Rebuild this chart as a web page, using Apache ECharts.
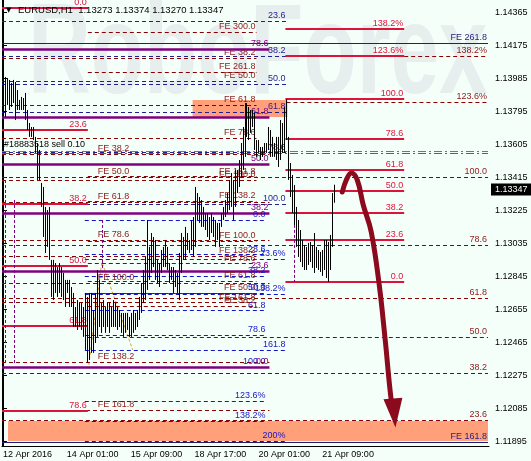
<!DOCTYPE html>
<html><head><meta charset="utf-8">
<script src="https://cdn.jsdelivr.net/npm/echarts@6/dist/echarts.min.js"></script>
<style>html,body{margin:0;padding:0;background:#F5FFFA}#c{width:531px;height:461px}</style>
</head><body><div id="c"></div>
<script>
// ---------------- data ----------------
const symbolName = 'EURUSD,H1';
const tickLabels = ['12 Apr 2016','14 Apr 01:00','15 Apr 09:00','18 Apr 17:00','20 Apr 01:00','21 Apr 09:00'];
const tickBars = [0, 32, 64, 96, 128, 160];
const slotCount = 244;
const priceTicks = [1.11895,1.12085,1.12275,1.12465,1.12655,1.12845,1.13035,1.13225,1.13415,1.13605,1.13795,1.13985,1.14175,1.14365];
const priceMin = 1.1187, priceMax = 1.14437;
const lastQuote = [1.13273, 1.13374, 1.13270, 1.13347];
// [open, high, low, close]
const bars = [
[1.1385,1.13977,1.13775,1.1395],[1.1395,1.13994,1.13764,1.1382],[1.1384,1.13988,1.13833,1.1396],[1.1396,1.13977,1.13804,1.1385],
[1.1385,1.13959,1.13821,1.1393],[1.1393,1.13977,1.13844,1.1388],[1.1388,1.13965,1.13746,1.1378],[1.1381,1.13919,1.13804,1.1388],
[1.1386,1.13862,1.13804,1.1381],[1.1381,1.13879,1.13804,1.1386],[1.1386,1.13873,1.13804,1.1382],[1.1382,1.13902,1.13746,1.1376],
[1.1376,1.13804,1.13689,1.1370],[1.1370,1.13729,1.13649,1.1366],[1.1366,1.13706,1.13649,1.1369],[1.1369,1.13706,1.13631,1.1364],
[1.1364,1.13649,1.13557,1.1357],[1.1357,1.13614,1.13401,1.1342],[1.1342,1.13574,1.13401,1.1350],[1.1337,1.13384,1.13246,1.1326],
[1.1326,1.13361,1.13073,1.1310],[1.1310,1.13246,1.12981,1.1300],[1.1302,1.13228,1.13016,1.1318],[1.1318,1.13246,1.12941,1.1295],
[1.1294,1.12941,1.12728,1.1275],[1.1275,1.12941,1.1271,1.1290],[1.1290,1.12923,1.12751,1.1278],[1.1278,1.129,1.12728,1.1288],
[1.1288,1.12923,1.12751,1.1277],[1.1277,1.129,1.12728,1.1287],[1.1286,1.12866,1.1271,1.1273],[1.1273,1.12826,1.1267,1.1279],
[1.1279,1.12826,1.12751,1.1276],[1.1276,1.12826,1.1267,1.1268],[1.1268,1.12785,1.1267,1.1276],[1.1275,1.12751,1.12555,1.1258],
[1.1258,1.1267,1.12555,1.1265],[1.1265,1.1271,1.12538,1.1256],[1.1256,1.12693,1.12555,1.1266],[1.1266,1.12693,1.12538,1.1255],
[1.1255,1.1267,1.12498,1.1262],[1.1262,1.12751,1.12423,1.1246],[1.1246,1.12728,1.12348,1.1266],[1.1266,1.12751,1.12365,1.1245],
[1.1245,1.12751,1.12406,1.1270],[1.1265,1.12653,1.12406,1.1245],[1.1247,1.12751,1.12463,1.1272],[1.1272,1.12883,1.12498,1.1255],
[1.1256,1.12826,1.12555,1.1278],[1.1267,1.12693,1.12521,1.1254],[1.1256,1.1271,1.12555,1.1269],[1.1267,1.1267,1.12521,1.1253],
[1.1256,1.12693,1.12555,1.1268],[1.1268,1.12693,1.12521,1.1254],[1.1256,1.1267,1.12555,1.1265],[1.1265,1.1271,1.12555,1.1257],
[1.1257,1.12693,1.12555,1.1267],[1.1267,1.1267,1.12538,1.1255],[1.1256,1.12653,1.12555,1.1264],[1.1263,1.12636,1.12521,1.1253],
[1.1253,1.12636,1.12498,1.1262],[1.1262,1.12636,1.12521,1.1254],[1.1254,1.12636,1.12538,1.1262],[1.1261,1.12613,1.12498,1.1251],
[1.1251,1.12636,1.12498,1.1262],[1.1262,1.12653,1.12521,1.1254],[1.1254,1.12636,1.12538,1.1263],[1.1263,1.12653,1.12555,1.1258],
[1.1260,1.12728,1.12595,1.1271],[1.1271,1.12808,1.12636,1.1279],[1.1279,1.12883,1.12693,1.1287],[1.1287,1.12958,1.1271,1.1294],
[1.1294,1.13171,1.12768,1.1302],[1.1301,1.13016,1.12826,1.1285],[1.1287,1.13096,1.12866,1.1305],[1.1305,1.13073,1.129,1.1292],
[1.1292,1.13056,1.12826,1.1286],[1.1286,1.12941,1.12808,1.1292],[1.1292,1.12923,1.12785,1.1281],[1.1287,1.12998,1.12866,1.1297],
[1.1297,1.13016,1.129,1.1291],[1.1291,1.13056,1.129,1.1303],[1.1301,1.13016,1.12883,1.1290],[1.1290,1.12923,1.12808,1.1282],
[1.1283,1.129,1.12826,1.1288],[1.1288,1.129,1.12751,1.1277],[1.1279,1.12883,1.12785,1.1286],[1.1286,1.12866,1.12751,1.1278],
[1.1278,1.12981,1.1271,1.1296],[1.1296,1.13096,1.12866,1.1306],[1.1306,1.13073,1.12941,1.1297],[1.1297,1.13131,1.12941,1.1310],
[1.1309,1.13096,1.12998,1.1302],[1.1302,1.13056,1.12981,1.1299],[1.1300,1.13171,1.12998,1.1314],[1.1314,1.13188,1.12958,1.1300],
[1.1302,1.13361,1.13016,1.1329],[1.1329,1.13326,1.13171,1.1319],[1.1319,1.13303,1.13154,1.1328],[1.1328,1.13286,1.13131,1.1316],
[1.1316,1.13246,1.13131,1.1322],[1.1320,1.13211,1.13113,1.1313],[1.1313,1.13211,1.13073,1.1318],[1.1318,1.13188,1.13056,1.1308],
[1.1310,1.13211,1.13096,1.1319],[1.1318,1.13188,1.13073,1.1309],[1.1309,1.13171,1.13016,1.1303],[1.1306,1.13154,1.13056,1.1314],
[1.1314,1.13154,1.13016,1.1305],[1.1314,1.13211,1.13131,1.1320],[1.1318,1.13246,1.13171,1.1324],[1.1324,1.13286,1.13188,1.1327],
[1.1327,1.13326,1.13211,1.1322],[1.1323,1.13401,1.13228,1.1338],[1.1338,1.13441,1.13246,1.1327],[1.1327,1.13401,1.13171,1.1320],
[1.1325,1.13459,1.13246,1.1343],[1.1343,1.13459,1.13326,1.1336],[1.1336,1.13516,1.13361,1.1349],[1.1349,1.13614,1.13418,1.1359],
[1.1359,1.13706,1.13459,1.1368],[1.1368,1.13844,1.13534,1.1380],[1.1380,1.13844,1.13649,1.1368],[1.1368,1.13821,1.13631,1.1379],
[1.1379,1.13804,1.13672,1.1370],[1.1371,1.13804,1.13706,1.1378],[1.1378,1.13787,1.13574,1.1360],[1.1360,1.13631,1.13534,1.1356],
[1.1356,1.13631,1.13557,1.1362],[1.1359,1.13591,1.13516,1.1353],[1.1354,1.13591,1.13534,1.1358],[1.1358,1.13614,1.13557,1.1360],
[1.1360,1.13614,1.13557,1.1357],[1.1358,1.13706,1.13574,1.1368],[1.1368,1.13689,1.13534,1.1356],[1.1356,1.13649,1.13534,1.1362],
[1.1361,1.13614,1.13534,1.1355],[1.1355,1.13649,1.13516,1.1363],[1.1363,1.13649,1.13476,1.1350],[1.1352,1.13746,1.13516,1.1370],
[1.1370,1.13729,1.13557,1.1360],[1.1360,1.13821,1.13557,1.1378],[1.1378,1.13867,1.13631,1.1366],[1.1364,1.13649,1.13401,1.1342],
[1.1342,1.13499,1.13303,1.1332],[1.1332,1.1343,1.13211,1.1322],[1.1322,1.13372,1.13142,1.1316],[1.1316,1.13246,1.13016,1.1303],
[1.1303,1.13171,1.12958,1.1298],[1.1298,1.13113,1.12929,1.1295],[1.1295,1.13056,1.129,1.1302],[1.1302,1.13027,1.12883,1.1290],
[1.1290,1.13016,1.12883,1.1299],[1.1299,1.13039,1.12912,1.1293],[1.1293,1.13044,1.12929,1.1301],[1.1301,1.13027,1.12895,1.1291],
[1.1291,1.13096,1.12866,1.1304],[1.1301,1.13016,1.12895,1.1292],[1.1292,1.12998,1.12883,1.1296],[1.1296,1.12987,1.12872,1.1289],
[1.1289,1.12998,1.12849,1.1297],[1.1297,1.13056,1.12883,1.1303],[1.1303,1.13056,1.12837,1.1288],[1.1288,1.13044,1.12814,1.1300],
[1.1300,1.13085,1.12883,1.1306],[1.1306,1.13326,1.13016,1.13273],[1.13273,1.13374,1.13270,1.13347]
];
// Fibonacci / expansion levels: [label, price]
const crimsonLeft = [['0.0',1.14391],['23.6',1.13689],['38.2',1.13263],['50.0',1.12906],['61.8',1.12561],['78.6',1.12072]];
const crimsonRight = [['138.2%',1.14270],['123.6%',1.14115],['100.0',1.13867],['78.6',1.13637],['61.8',1.13459],['50.0',1.13338],['38.2',1.13211],['23.6',1.13056],['0.0',1.12814]];
const expansionRight = [['138.2%',1.14115],['123.6%',1.13850],['100.0',1.13418],['78.6',1.13027],['61.8',1.12722],['50.0',1.12498],['38.2',1.12290],['23.6',1.12020]];
const expansionRightFrom = [201, 142, -0.5, -0.5, -0.5, 42.5, -0.5, -0.5];
const purpleLevels = [['78.6',1.14155],['61.8',1.13764],['50.0',1.13493],['38.2',1.13211],['23.6',1.12877],['0.0',1.12326]];
const navyUpper = [['23.6',1.14316],['38.2',1.14115],['50.0',1.13954],['61.8',1.13792],['78.6',1.13558],['100.0',1.13264]];
const navyLower = [['0.0',1.13171],['23.6',1.12972],['38.2',1.12848],['50.0',1.12749],['61.8',1.12649],['78.6',1.12507],['100.0',1.12326]];
const navyPercent = [['23.6%',1.12947],['138.2%',1.12745],['161.8',1.12423],['123.6%',1.12129],['138.2%',1.12014],['200%',1.11899]];
const navyPercentTo = [142, 142, 142, 132, 132, 142];
const fe1 = [['FE 300.0',1.14253],['FE 261.8',1.14023],['FE 161.8',1.13421],['FE 138.2',1.13279],['FE 100.0',1.13049],['FE 78.6',1.12920],['FE 61.8',1.12819],['FE 50.0',1.12748],['FE 38.2',1.12677]];
const fe2 = [['FE 38.2',1.13551],['FE 50.0',1.13418],['FE 61.8',1.13274],['FE 78.6',1.13056],['FE 100.0',1.12808],['FE 138.2',1.12354],['FE 161.8',1.12077]];
const fe3 = [['FE 38.2',1.14103],['FE 50.0',1.13969],['FE 61.8',1.13834],['FE 78.6',1.13643],['FE 100.0',1.13399],['FE 138.2',1.12964],['FE 161.8',1.12695]];
const navySolid = [['FE 261.8',1.14190],['FE 161.8',1.11893]];
const orderLine = [['#18883518 sell 0.10',1.13568]];
const stopLine = [['',1.13557]];
// zones: [fromBar, toBar, lowPrice, highPrice]
const zones = [[95,142.5,1.13764,1.13862],[2.5,243,1.11899,1.12014]];
// vertical dashed marks: [bar, priceTop, priceBottom]
const verticalMarks = [[1,1.13401,1.12336],[5.5,1.13286,1.12336],[49.5,1.13171,1.12883],[146,1.13344,1.12814]];
const trendPath = [[43,1.12337],[49.5,1.12929],[65,1.12423]];
const arrowPath = [[170,1.13332],[172,1.13401],[174.5,1.13441],[177.5,1.13401],[180.5,1.13257],[184.5,1.13102],[188.5,1.12797],[191.5,1.1248],[194.5,1.12135],[196,1.12060]];

// ---------------- chart ----------------
const FONT = 'Liberation Sans, Arial, sans-serif';
const cats = new Array(slotCount).fill('');
tickBars.forEach((b, k) => { cats[b] = tickLabels[k]; });

function levelSeries(levels, o) {
  const data = levels.map(([label, price], k) => {
    const from = Array.isArray(o.from) ? o.from[k] : o.from;
    const to = Array.isArray(o.to) ? o.to[k] : o.to;
    return [{coord: [from, price], name: label}, {coord: [to, price]}];
  });
  return {
    type: 'line', xAxisIndex: 1, yAxisIndex: 0, data: [], z: o.z || 3, silent: true,
    markLine: {
      silent: true, symbol: ['none', 'none'], animation: false, precision: 5, data,
      lineStyle: {color: o.color, width: o.width == null ? 1 : o.width, type: o.type || 'solid'},
      label: {show: o.label !== false, position: o.pos || 'insideEndTop', formatter: '{b}',
        color: o.labelColor || o.color, fontSize: 9, fontFamily: FONT, distance: o.dist == null ? 1 : o.dist}
    }
  };
}

const DASH = [4, 3];
const series = [
  // zones
  {type: 'line', xAxisIndex: 1, data: [], z: 1, silent: true,
   markArea: {silent: true, itemStyle: {color: '#FFA07A', opacity: 1},
     data: zones.map(z => [{coord: [z[0], z[2]]}, {coord: [z[1], z[3]]}])}},
  levelSeries(fe1, {from: 42.5, to: 127, color: '#8B0000', type: DASH, labelColor: '#8B1A1A'}),
  levelSeries(fe3, {from: -0.5, to: 127, color: '#8B0000', type: DASH, labelColor: '#8B1A1A'}),
  levelSeries(fe2, {from: -0.5, to: 133.5, color: '#8B0000', type: DASH, label: false}),
  levelSeries(fe2, {from: 47, to: 133.5, color: 'rgba(0,0,0,0)', width: 0, labelColor: '#8B1A1A', pos: 'insideStartTop'}),
  levelSeries(expansionRight, {from: expansionRightFrom, to: 243, color: '#8B0000', type: DASH, labelColor: '#8B1A1A'}),
  levelSeries(navyUpper, {from: -0.5, to: 142, color: '#1F1F8F', type: DASH}),
  levelSeries(navyLower, {from: 41, to: 132, color: '#1515C8', type: DASH}),
  levelSeries(navyPercent, {from: 41, to: navyPercentTo, color: '#1515C8', type: DASH}),
  levelSeries(navySolid, {from: -0.5, to: 243, color: '#1F1F7A', labelColor: '#1F1F7A'}),
  levelSeries(orderLine, {from: -0.5, to: 243, color: '#FF4500', type: [8, 3, 2, 3], labelColor: '#000', pos: 'insideStartTop', dist: 2}),
  levelSeries(stopLine, {from: -0.5, to: 243, color: '#228B22', type: [8, 3, 2, 3], label: false}),
  levelSeries(purpleLevels, {from: -0.5, to: 133.5, color: '#800080', width: 2.5, z: 4}),
  levelSeries(crimsonLeft, {from: -0.5, to: 42.5, color: '#DC143C', width: 2, z: 4}),
  levelSeries(crimsonRight, {from: 141.5, to: 201, color: '#DC143C', width: 2, z: 4}),
  // vertical dashed marks
  {type: 'line', xAxisIndex: 1, data: [], z: 3, silent: true,
   markLine: {silent: true, symbol: ['none', 'none'], animation: false, label: {show: false},
     lineStyle: {color: '#800080', type: [3, 2], width: 1},
     data: verticalMarks.map(v => [{coord: [v[0], v[1]]}, {coord: [v[0], v[2]]}])}},
  // tan trend path
  {type: 'line', xAxisIndex: 1, z: 3, silent: true, symbol: 'none',
   lineStyle: {color: '#DAA520', type: [3, 2], width: 1}, data: trendPath},
  // price bars
  {type: 'custom', xAxisIndex: 0, yAxisIndex: 0, z: 6, silent: true,
   data: bars.map((b, i) => [i, b[0], b[1], b[2], b[3]]),
   encode: {x: 0, y: [1, 2, 3, 4]},
   renderItem: (params, api) => {
     const i = api.value(0);
     const h = api.coord([i, api.value(2)]);
     const l = api.coord([i, api.value(3)]);
     const x = Math.round(h[0]) + 0.5;
     return {type: 'line', shape: {x1: x, y1: h[1], x2: x, y2: l[1]}, style: {stroke: '#000', lineWidth: 1}};
   }},
  // current price tag
  {type: 'line', xAxisIndex: 1, data: [], z: 8, silent: true,
   markLine: {silent: true, symbol: ['none', 'none'], animation: false, precision: 5,
     lineStyle: {color: 'rgba(0,0,0,0)', width: 0},
     label: {show: true, position: 'end', distance: 2, formatter: () => lastQuote[3].toFixed(5), color: '#fff',
       backgroundColor: '#000', padding: [2, 4, 1, 4], fontSize: 9, fontFamily: FONT},
     data: [{yAxis: lastQuote[3]}]}},
  // forecast arrow
  {type: 'line', xAxisIndex: 1, z: 9, silent: true, smooth: 0.4, symbol: 'none',
   lineStyle: {color: '#8B0A1E', width: 5, cap: 'round'},
   data: arrowPath.map((p, k) => k === arrowPath.length - 1
     ? {value: p, symbol: 'triangle', symbolSize: [19, 29], symbolRotate: 185, itemStyle: {color: '#8B0A1E'}}
     : {value: p})}
];

const chart = echarts.init(document.getElementById('c'));
chart.setOption({
  backgroundColor: '#F5FFFA',
  animation: false,
  grid: {left: 2, right: 42, top: 0, bottom: 15},
  xAxis: [
    {type: 'category', data: cats, boundaryGap: true,
     axisLine: {lineStyle: {color: '#000', width: 1}},
     axisTick: {interval: (i, v) => v !== '', alignWithLabel: true, length: 4, lineStyle: {color: '#000'}},
     axisLabel: {interval: (i, v) => v !== '', align: 'left', color: '#000', fontSize: 9, fontFamily: FONT, margin: 4},
     splitLine: {show: false}},
    {type: 'value', min: -0.5, max: slotCount - 0.5, show: false}
  ],
  yAxis: [
    {type: 'value', position: 'right', min: priceMin, max: priceMax,
     splitLine: {show: false},
     axisLine: {show: true, lineStyle: {color: '#000'}},
     axisTick: {show: true, length: 4, customValues: priceTicks, lineStyle: {color: '#000'}},
     axisLabel: {customValues: priceTicks, formatter: v => v.toFixed(5), color: '#000', fontSize: 9, fontFamily: FONT, margin: 6}},
    {type: 'value', position: 'left', min: 0, max: 1,
     splitLine: {show: false}, axisLabel: {show: false}, axisTick: {show: false},
     axisLine: {show: true, lineStyle: {color: '#000'}}}
  ],
  graphic: [
    {type: 'text', x: 28, y: -6, scaleX: 0.68, z: 0, silent: true,
     style: {text: 'RoboForex', font: 'bold 128px Liberation Sans, Arial', fill: '#E7EEEE', verticalAlign: 'top'}},
    {type: 'text', x: 6, y: 7, z: 20, silent: true,
     style: {text: '\u25BC', font: '7px DejaVu Sans', fill: '#000', verticalAlign: 'top'}},
    {type: 'text', x: 18, y: 5, z: 20, silent: true,
     style: {text: symbolName + '  ' + lastQuote.map(v => v.toFixed(5)).join(' '), font: '9.5px Liberation Sans, Arial', fill: '#000', verticalAlign: 'top'}}
  ],
  series
});
</script>
</body></html>
